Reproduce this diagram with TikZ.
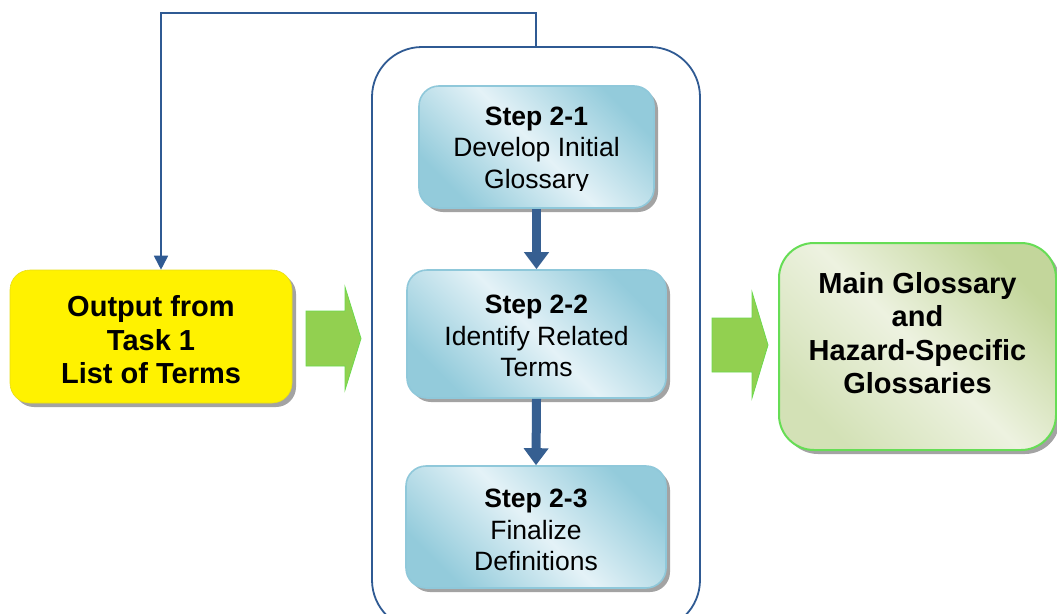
\documentclass[tikz,border=0pt]{standalone}
\usepackage{fontspec}
\setmainfont{Liberation Sans}
\usetikzlibrary{arrows.meta,shadows,calc}

\definecolor{lineblue}{HTML}{2F5A93}
\definecolor{arrowblue}{HTML}{365F91}
\definecolor{stepdark}{HTML}{93CBDB}
\definecolor{steplight}{HTML}{E4F2F7}
\definecolor{stepedge}{HTML}{8FC8DA}
\definecolor{arrowgreen}{HTML}{92D050}
\definecolor{arrowedge}{HTML}{6CD94C}
\definecolor{outdark}{HTML}{C3D69B}
\definecolor{outmid}{HTML}{D3E1B6}
\definecolor{outlight}{HTML}{EDF2E0}
\definecolor{outedge}{HTML}{66DD55}
\definecolor{shadowgray}{HTML}{A3A3A3}

\tikzset{
  boxshadow/.style={drop shadow={shadow xshift=4pt,shadow yshift=-4pt,fill=shadowgray,opacity=1}},
  container/.style={draw=lineblue,line width=1.8pt,rounded corners=50pt},
  inputbox/.style={fill=yellow,draw=yellow!90!black,line width=0.6pt,rounded corners=20pt,boxshadow},
  stepbox/.style={draw=stepedge,line width=1.6pt,rounded corners=20pt,boxshadow,
    left color=stepdark,right color=stepdark,middle color=steplight,shading angle=135},
  outbox/.style={draw=outedge,line width=2pt,rounded corners=35pt,boxshadow,
    left color=outmid,right color=outdark,middle color=outlight,shading angle=135},
  bigtext/.style={font=\fontsize{29}{33.5}\selectfont\bfseries,align=center,inner sep=0pt},
  steptext/.style={font=\fontsize{26.5}{31.5}\selectfont,align=center,inner sep=0pt},
  feedback/.style={draw=lineblue,line width=1.8pt,-{Triangle[width=14pt,length=14pt]}},
  flow/.style={draw=arrowblue,line width=9pt,-{Triangle[width=24pt,length=17pt]}},
  blockarrow/.style={fill=arrowgreen,draw=arrowedge,line width=0.8pt},
}

\begin{document}
\begin{tikzpicture}[x=1pt,y=-1pt]
  \clip (0,0) rectangle (1057,613);
  \fill[white] (0,0) rectangle (1057,613);

  % process container holding the three steps
  \node[container,minimum width=328pt,minimum height=583pt] (cont) at (536,338.5) {};

  % input from the previous task
  \node[inputbox,minimum width=282pt,minimum height=133pt] (input) at (151,336.5) {};
  \node[bigtext] (inputtext) at (151,340) {Output from\\Task 1\\List of Terms};

  % the three steps
  \node[stepbox,minimum width=235pt,minimum height=122pt] (s1) at (536.5,147) {};
  \begin{scope}
    \clip (419,86) rectangle (654,190);
    \node[steptext] (t1) at (536.5,150) {\textbf{Step 2-1}\\Develop Initial\\Glossary};
  \end{scope}
  \node[stepbox,minimum width=259pt,minimum height=128pt] (s2) at (536.5,334) {};
  \node[steptext] (t2) at (536.5,336) {\textbf{Step 2-2}\\Identify Related\\Terms};
  \node[stepbox,minimum width=260pt,minimum height=122pt] (s3) at (536,527) {};
  \node[steptext] (t3) at (536,530) {\textbf{Step 2-3}\\Finalize\\Definitions};

  % resulting glossaries
  \node[outbox,minimum width=277pt,minimum height=207pt] (out) at (917.5,346.5) {};
  \node[bigtext] (outtext) at (917.5,333) {Main Glossary\\and\\Hazard-Specific\\Glossaries};

  % flow between the steps
  \draw[flow] (s1.south) -- (s2.north);
  \draw[flow] (s2.south) -- (s3.north);

  % feedback loop back to the input
  \draw[feedback] (cont.north) -- ++(0,-33) -| ([xshift=10pt]input.north);

  % block arrows into and out of the process
  \path[blockarrow] (306,311) -- (345,311) -- (345,287) -- (361,338.5)
    -- (345,390) -- (345,366) -- (306,366) -- cycle;
  \path[blockarrow] (712,318) -- (752,318) -- (752,292) -- (768,345)
    -- (752,398) -- (752,372) -- (712,372) -- cycle;
\end{tikzpicture}
\end{document}
